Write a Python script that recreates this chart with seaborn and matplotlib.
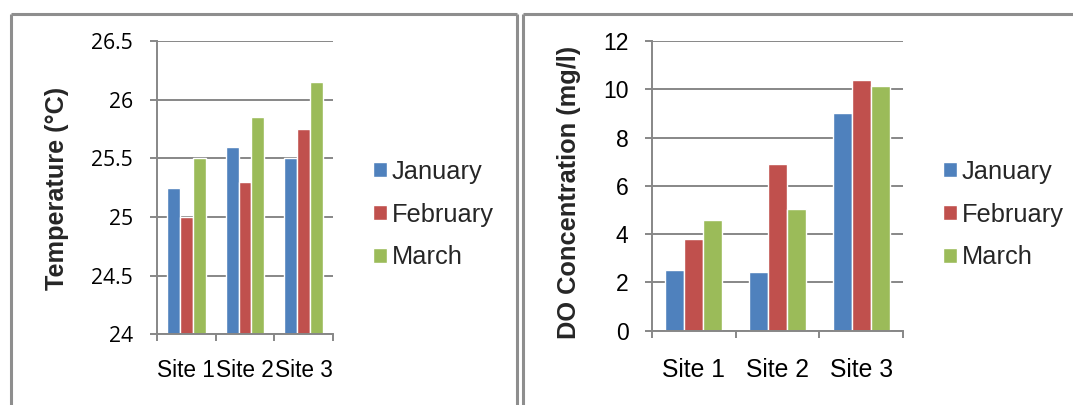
import matplotlib
matplotlib.use("Agg")
import matplotlib.pyplot as plt
from matplotlib.lines import Line2D
import seaborn as sns
import pandas as pd

sites = ["Site 1", "Site 2", "Site 3"]
months = ["January", "February", "March"]
temp_january = [25.25, 25.6, 25.5]
temp_february = [25.0, 25.3, 25.75]
temp_march = [25.5, 25.85, 26.15]
do_january = [2.5, 2.45, 9.0]
do_february = [3.8, 6.9, 10.4]
do_march = [4.6, 5.05, 10.15]
temp_ticks = [24, 24.5, 25, 25.5, 26, 26.5]
temp_tick_labels = ["24", "24.5", "25", "25.5", "26", "26.5"]
do_ticks = [0, 2, 4, 6, 8, 10, 12]

colors = ["#4F81BD", "#C0504D", "#9BBB59"]
grid_color = "#878787"
sans = ["Liberation Sans", "DejaVu Sans"]


def long_table(jan, feb, mar):
    rows = []
    for month, vals in zip(months, [jan, feb, mar]):
        for site, v in zip(sites, vals):
            rows.append({"site": site, "month": month, "value": v})
    return pd.DataFrame(rows)


temp_df = long_table(temp_january, temp_february, temp_march)
do_df = long_table(do_january, do_february, do_march)

sns.set_theme(style="white")
plt.rcParams["font.family"] = sans

W, H = 1073, 405
fig = plt.figure(figsize=(W / 100, H / 100), dpi=100)

# panel frames
def frame(x0, x1, y_top, right=True):
    kw = dict(color="#8e8e8e", lw=2.2, transform=fig.transFigure, solid_capstyle="butt")
    yt = 1 - y_top / H
    fig.add_artist(Line2D([x0 / W, x0 / W], [0, yt], **kw))
    fig.add_artist(Line2D([x0 / W, x1 / W], [yt, yt], **kw))
    if right:
        fig.add_artist(Line2D([x1 / W, x1 / W], [0, yt], **kw))

frame(10.5, 516.5, 14)
frame(522.5, 1075, 14, right=False)


def style_axes(ax, ylim, ticks, labels, ytick_font, ytick_size, ytick_pad,
               xtick_size, xtick_pad):
    ax.set_ylim(*ylim)
    ax.set_xlim(-0.5, 2.5)
    ax.set_yticks(ticks)
    ax.set_yticklabels(labels, fontfamily=ytick_font, fontsize=ytick_size)
    ax.set_xticks(range(3))
    ax.set_xticklabels(sites, fontsize=xtick_size)
    ax.set_xticks([-0.5, 0.5, 1.5, 2.5], minor=True)
    ax.tick_params(axis="x", which="major", length=0, pad=xtick_pad, colors="black")
    ax.tick_params(axis="x", which="minor", length=5.2, width=1.4,
                   color=grid_color, direction="out", bottom=True)
    ax.tick_params(axis="y", which="major", length=5.2, width=1.4,
                   color=grid_color, direction="out", left=True, pad=ytick_pad,
                   labelcolor="black")
    ax.grid(axis="y", color=grid_color, lw=1.4)
    ax.set_axisbelow(True)
    for side in ["top", "right"]:
        ax.spines[side].set_visible(False)
    for side in ["left", "bottom"]:
        ax.spines[side].set_color(grid_color)
        ax.spines[side].set_linewidth(1.4)
        ax.spines[side].set_zorder(3)
    ax.set_xlabel("")
    ax.set_facecolor("none")


legend_kw = dict(loc="center left", frameon=False, fontsize=18.3,
                 handlelength=0.55, handleheight=0.55, handletextpad=0.18,
                 labelspacing=0.74, borderpad=0, borderaxespad=0)

# Temperature panel
ax1 = fig.add_axes([156.7 / W, 1 - 334.3 / H, (333.3 - 156.7) / W, (334.3 - 41) / H])
sns.barplot(data=temp_df, x="site", y="value", hue="month", palette=colors,
            width=0.66, gap=0, saturation=1, ax=ax1, legend=True)
style_axes(ax1, (24, 26.5), temp_ticks, temp_tick_labels, ["Open Sans", "DejaVu Sans"],
           15.2, 12, 16.3, 18)
ax1.set_ylabel("Temperature (°C)", fontsize=18.2, fontweight="bold")
ax1.yaxis.set_label_coords(56.8 / W, 1 - 188.3 / H, transform=fig.transFigure)
ax1.yaxis.label.set_va("center")
h, l = ax1.get_legend_handles_labels()
ax1.get_legend().remove()
fig.legend(h, l, bbox_to_anchor=(373 / W, 1 - 214.5 / H), **legend_kw)

# Dissolved oxygen panel
ax2 = fig.add_axes([651.6 / W, 1 - 330.7 / H, (903.4 - 651.6) / W, (330.7 - 41) / H])
sns.barplot(data=do_df, x="site", y="value", hue="month", palette=colors,
            width=0.672, gap=0, saturation=1, ax=ax2, legend=True)
style_axes(ax2, (0, 12), do_ticks, [str(t) for t in do_ticks], sans,
           16.5, 11.5, 17.8, 19.5)
ax2.set_ylabel("DO Concentration (mg/l)", fontsize=18.3, fontweight="bold")
ax2.yaxis.set_label_coords(569.4 / W, 1 - 192.5 / H, transform=fig.transFigure)
ax2.yaxis.label.set_va("center")
h, l = ax2.get_legend_handles_labels()
ax2.get_legend().remove()
fig.legend(h, l, bbox_to_anchor=(943.3 / W, 1 - 214.5 / H), **legend_kw)

fig.savefig("out.png", dpi=100, facecolor="white")
